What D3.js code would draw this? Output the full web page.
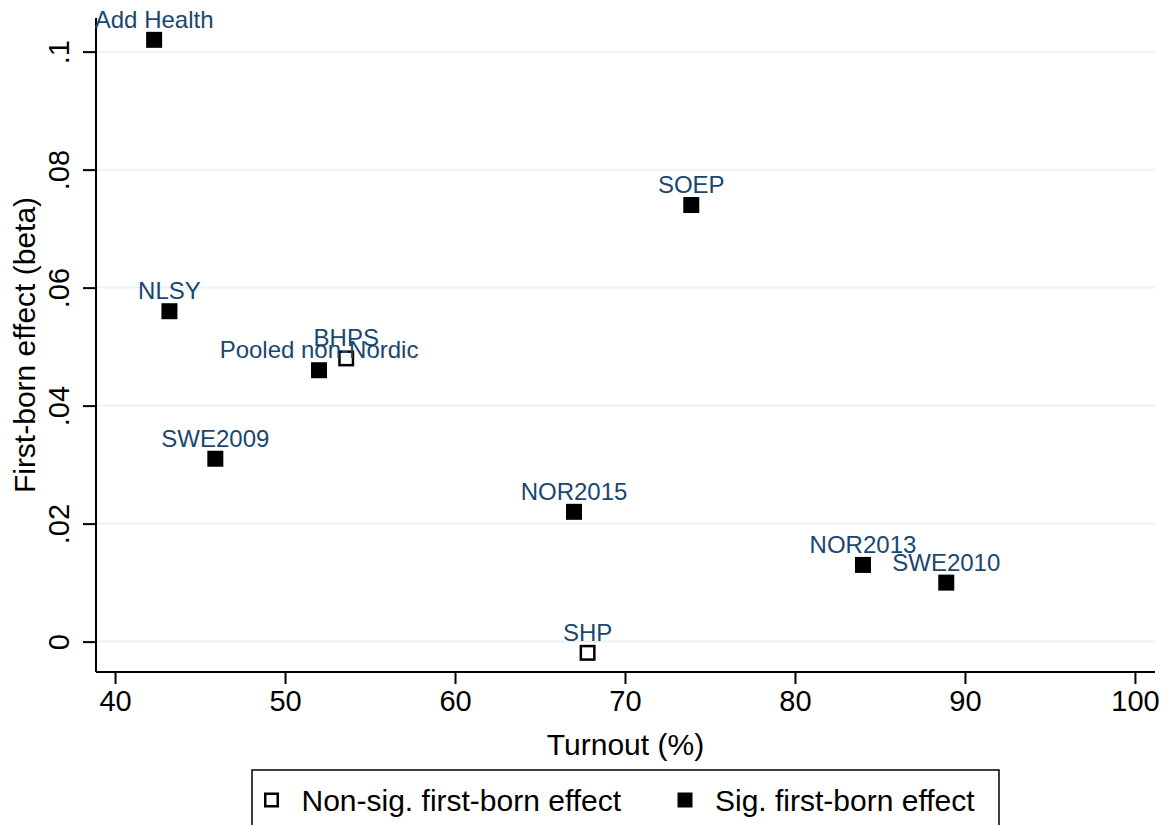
<!DOCTYPE html>
<html>
<head>
<meta charset="utf-8">
<script src="https://cdnjs.cloudflare.com/ajax/libs/d3/7.8.5/d3.min.js"></script>
<style>
  body { margin: 0; background: #fff; }
  text { font-family: "Liberation Sans", Arial, Helvetica, sans-serif; }
</style>
</head>
<body>
<script>
// studies, turnout (%), first-born effect, significant?
const studies   = ["Add Health", "SOEP", "NLSY", "BHPS", "Pooled non-Nordic", "SWE2009", "NOR2015", "NOR2013", "SWE2010", "SHP"];
const turnout   = [42.3, 73.9, 43.2, 53.6, 52.0, 45.9, 67.0, 84.0, 88.9, 67.8];
const beta      = [0.102, 0.074, 0.056, 0.048, 0.046, 0.031, 0.022, 0.013, 0.010, -0.0019];
const signif    = [true, true, true, false, true, true, true, true, true, false];

const xTicks = [40, 50, 60, 70, 80, 90, 100];
const yTicks = [0, 0.02, 0.04, 0.06, 0.08, 0.1];
const yTickLabels = ["0", ".02", ".04", ".06", ".08", ".1"];

const legendLabels = ["Non-sig. first-born effect", "Sig. first-born effect"];

const W = 1169, H = 825;
const plot = {left: 96, right: 1155, top: 18, bottom: 672};
const labelColor = "#1a476f";
const gridColor = "#eaf2f3";

const svg = d3.select("body").append("svg")
  .attr("width", W).attr("height", H)
  .style("background", "#fff");

const x = d3.scaleLinear().domain([38.88, 101.18]).range([plot.left, plot.right]);
const y = d3.scaleLinear().domain([-0.00515, 0.1057]).range([plot.bottom, plot.top]);

// grid
svg.append("g").selectAll("line").data(yTicks).join("line")
  .attr("x1", plot.left).attr("x2", plot.right)
  .attr("y1", d => y(d)).attr("y2", d => y(d))
  .attr("stroke", gridColor).attr("stroke-width", 2);

// y axis
const yAxis = svg.append("g")
  .attr("transform", `translate(${plot.left},0)`)
  .call(d3.axisLeft(y).tickValues(yTicks).tickSize(13).tickFormat((d, i) => yTickLabels[i]));
yAxis.select(".domain").attr("d", `M0,${plot.top}V${plot.bottom}`).attr("stroke", "#000").attr("stroke-width", 2);
yAxis.selectAll(".tick line").attr("stroke", "#000").attr("stroke-width", 2);
yAxis.selectAll(".tick text")
  .attr("x", null).attr("dy", null)
  .attr("transform", "translate(-27,0) rotate(-90)")
  .attr("text-anchor", "middle")
  .attr("font-size", 29)
  .attr("fill", "#000");

// x axis
const xAxis = svg.append("g")
  .attr("transform", `translate(0,${plot.bottom})`)
  .call(d3.axisBottom(x).tickValues(xTicks).tickSize(12).tickFormat(d3.format("d")));
xAxis.select(".domain").attr("d", `M${plot.left},0H${plot.right}`).attr("stroke", "#000").attr("stroke-width", 2);
xAxis.selectAll(".tick line").attr("stroke", "#000").attr("stroke-width", 2);
xAxis.selectAll(".tick text")
  .attr("y", 39).attr("dy", null)
  .attr("font-size", 29)
  .attr("fill", "#000");

// axis titles
svg.append("text")
  .attr("x", (plot.left + plot.right) / 2).attr("y", 755)
  .attr("text-anchor", "middle").attr("font-size", 30)
  .text("Turnout (%)");
svg.append("text")
  .attr("transform", `translate(35,${(plot.top + plot.bottom) / 2}) rotate(-90)`)
  .attr("text-anchor", "middle").attr("font-size", 30)
  .text("First-born effect (beta)");

// points
const data = studies.map((s, i) => ({name: s, x: turnout[i], y: beta[i], sig: signif[i]}));
const ms = 16;

const pts = svg.append("g").selectAll("g").data(data).join("g")
  .attr("transform", d => `translate(${x(d.x)},${y(d.y)})`);

pts.append("rect")
  .attr("x", d => d.sig ? -ms / 2 : -ms / 2 + 1.25)
  .attr("y", d => d.sig ? -ms / 2 : -ms / 2 + 1.25)
  .attr("width", d => d.sig ? ms : ms - 2.5)
  .attr("height", d => d.sig ? ms : ms - 2.5)
  .attr("fill", d => d.sig ? "#000" : "#fff")
  .attr("stroke", d => d.sig ? "none" : "#000")
  .attr("stroke-width", 2.5);

pts.append("text")
  .attr("y", -12)
  .attr("text-anchor", "middle")
  .attr("font-size", 24)
  .attr("fill", labelColor)
  .text(d => d.name);

// legend
const legend = svg.append("g");
legend.append("rect")
  .attr("x", 252).attr("y", 770).attr("width", 747).attr("height", 80)
  .attr("fill", "#fff").attr("stroke", "#000").attr("stroke-width", 1.5);

const legX = [271.5, 685];
legend.selectAll("g").data(legendLabels).join("g")
  .attr("transform", (d, i) => `translate(${legX[i]},800)`)
  .each(function (d, i) {
    const g = d3.select(this);
    g.append("rect")
      .attr("x", i === 0 ? -6.25 : -7.5).attr("y", i === 0 ? -6.25 : -7.5)
      .attr("width", i === 0 ? 12.5 : 15).attr("height", i === 0 ? 12.5 : 15)
      .attr("fill", i === 0 ? "#fff" : "#000")
      .attr("stroke", i === 0 ? "#000" : "none")
      .attr("stroke-width", 2.5);
    g.append("text")
      .attr("x", 30).attr("y", 11)
      .attr("font-size", 30)
      .text(d);
  });
</script>
</body>
</html>
